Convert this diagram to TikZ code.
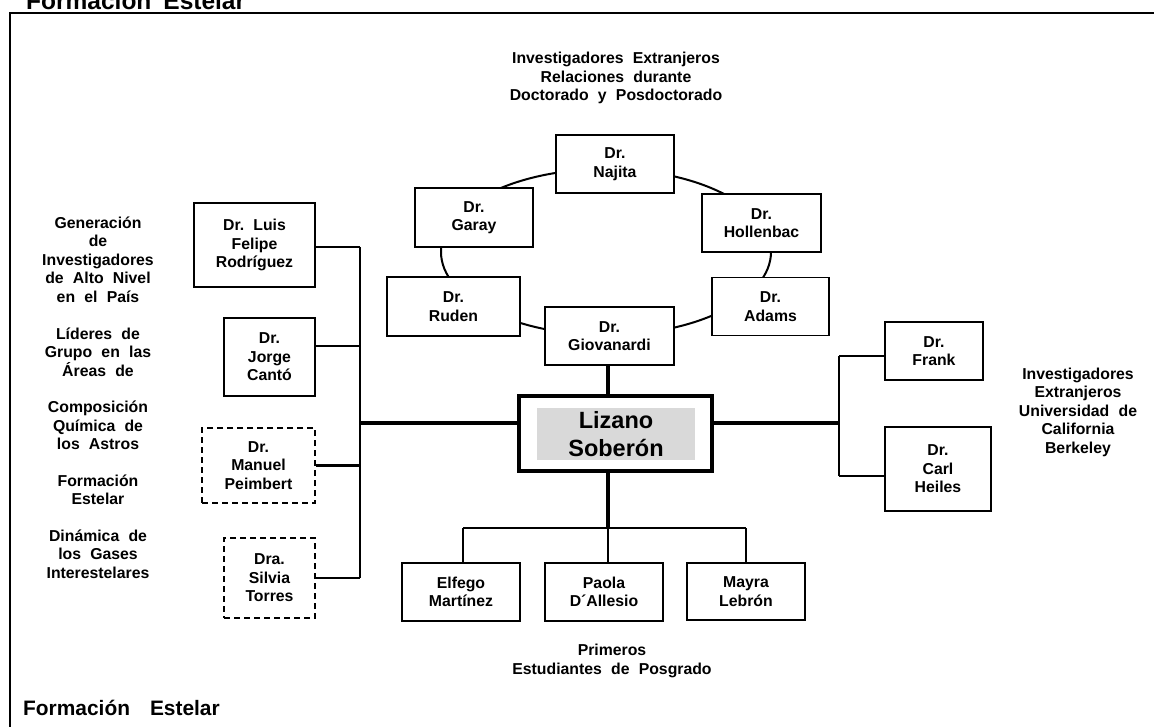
\documentclass[tikz,border=0pt]{standalone}
\usepackage{fontspec}
\setmainfont{Liberation Sans}[WordSpace=2.1]
\definecolor{namefill}{HTML}{D9D9D9}
\tikzset{
  txt/.style={font=\bfseries\fontsize{15.8}{18.5}\selectfont, align=center, inner sep=0pt},
  box/.style={txt, draw, line width=1.8pt, fill=white},
  dbox/.style={box, dash pattern=on 6pt off 4pt},
  bigbox/.style={draw, line width=4pt, fill=white, inner sep=0pt},
  bigtxt/.style={font=\bfseries\fontsize{23.5}{28}\selectfont, align=center, inner sep=0pt, fill=namefill},
  thick link/.style={line width=3.5pt},
  link/.style={line width=2.2pt},
  ring/.style={line width=2pt},
  frame/.style={line width=2.5pt},
  caption/.style={font=\bfseries\fontsize{20.9}{24}\selectfont, inner sep=0pt},
}
\begin{document}
\begin{tikzpicture}[x=1pt, y=-1pt]
\useasboundingbox (0,0) rectangle (1154,727);
\clip (0,0) rectangle (1154,727);

% page frame and captions
\draw[frame] (10,727) -- (10,13) -- (1160,13);
\node[caption, font=\bfseries\fontsize{24.5}{28}\selectfont, anchor=base west] (toptitle) at (26,10) {Formación\hspace{12pt}Estelar};
\node[caption, anchor=base west] (bottomtitle) at (23,715) {Formación\hspace{20pt}Estelar};

% ring of foreign researchers
\coordinate (ringc) at (606,252);
\draw[ring] (ringc) ellipse [x radius=165pt, y radius=83pt];
\node[box, minimum width=118pt, minimum height=58pt] (najita) at (615,164) {Dr.\\Najita};
\node[box, minimum width=118pt, minimum height=59pt] (garay) at (474,217.5) {Dr.\\Garay};
\node[box, minimum width=119pt, minimum height=58pt] (hollen) at (761.5,223) {Dr.\\Hollenbac};
\node[box, minimum width=133pt, minimum height=59pt] (ruden) at (453.5,306.5) {Dr.\\Ruden};
\node[box, minimum width=117pt, minimum height=58pt] (adams) at (770.5,306.5) {Dr.\\Adams};
\node[box, minimum width=129pt, minimum height=58pt] (gio) at (609.5,336) {Dr.\\Giovanardi};

% central node
\node[bigbox, minimum width=193pt, minimum height=75pt] (liz) at (615.5,433.5) {};
\node[bigtxt, minimum width=158pt, minimum height=52pt] (liztext) at (616,434) {Lizano\\Soberón};

% left column
\node[box, minimum width=121pt, minimum height=84pt] (luis) at (254.5,245) {Dr.\ Luis\\Felipe\\Rodríguez};
\node[box, minimum width=91pt, minimum height=78pt] (jorge) at (269.5,357) {Dr.\\Jorge\\Cantó};
\node[dbox, minimum width=113pt, minimum height=75pt] (peimbert) at (258.5,465.5) {Dr.\\Manuel\\Peimbert};
\node[dbox, minimum width=91pt, minimum height=80pt] (silvia) at (269.5,578) {Dra.\\Silvia\\Torres};

% right column
\node[box, minimum width=98pt, minimum height=58pt] (frank) at (934,351) {Dr.\\Frank};
\node[box, minimum width=106pt, minimum height=84pt] (heiles) at (938,469) {Dr.\\Carl\\Heiles};

% students
\node[box, minimum width=118pt, minimum height=58pt] (elfego) at (461,592) {Elfego\\Martínez};
\node[box, minimum width=118pt, minimum height=58pt] (paola) at (604,592) {Paola\\D´Allesio};
\node[box, minimum width=118pt, minimum height=57pt] (mayra) at (746,591.5) {Mayra\\Lebrón};

% group labels
\node[txt] (toplabel) at (616,78) {Investigadores Extranjeros\\Relaciones durante\\Doctorado y Posdoctorado};
\node[txt] (rightlabel) at (1078,412) {Investigadores\\Extranjeros\\Universidad de\\California\\Berkeley};
\node[txt] (bottomlabel) at (612,661) {Primeros\\Estudiantes de Posgrado};
\node[txt] (lab1) at (98,259.5) {Generación\\de\\Investigadores\\de Alto Nivel\\en el País};
\node[txt] (lab2) at (98,352) {Líderes de\\Grupo en las\\Áreas de};
\node[txt] (lab3) at (98,425.5) {Composición\\Química de\\los Astros};
\node[txt] (lab4) at (98,490) {Formación\\Estelar};
\node[txt] (lab5) at (98,554) {Dinámica de\\los Gases\\Interestelares};

% connectors
\coordinate (lbus) at (360,0);
\coordinate (rbus) at (839,0);
\coordinate (stem) at (608,0);
\coordinate (sbus) at (0,528);

\draw[thick link] (gio.south -| stem) -- (liz.north -| stem);
\draw[thick link] ([yshift=10.5pt]liz.west) -- ([yshift=10.5pt]liz.west -| lbus);
\draw[thick link] ([yshift=10.5pt]liz.east) -- ([yshift=10.5pt]liz.east -| rbus);
\draw[thick link] (liz.south -| stem) -- (stem |- sbus);

\draw[link] ([yshift=-2pt]luis.east -| lbus) -- (silvia.east -| lbus);
\draw[link] ([yshift=-2pt]luis.east) -- ([yshift=-2pt]luis.east -| lbus);
\draw[link] ([yshift=11pt]jorge.east) -- ([yshift=11pt]jorge.east -| lbus);
\draw[link] (peimbert.east) -- (peimbert.east -| lbus);
\draw[link] (silvia.east) -- (silvia.east -| lbus);

\draw[link] ([yshift=-5pt]frank.west -| rbus) -- ([yshift=-7pt]heiles.west -| rbus);
\draw[link] ([yshift=-5pt]frank.west) -- ([yshift=-5pt]frank.west -| rbus);
\draw[link] ([yshift=-7pt]heiles.west) -- ([yshift=-7pt]heiles.west -| rbus);

\draw[link] ([xshift=2pt]elfego.north |- sbus) -- (mayra.north |- sbus);
\draw[link] ([xshift=2pt]elfego.north) -- ([xshift=2pt]elfego.north |- sbus);
\draw[link] (stem |- sbus) -- (paola.north -| stem);
\draw[link] (mayra.north) -- (mayra.north |- sbus);
\end{tikzpicture}
\end{document}
